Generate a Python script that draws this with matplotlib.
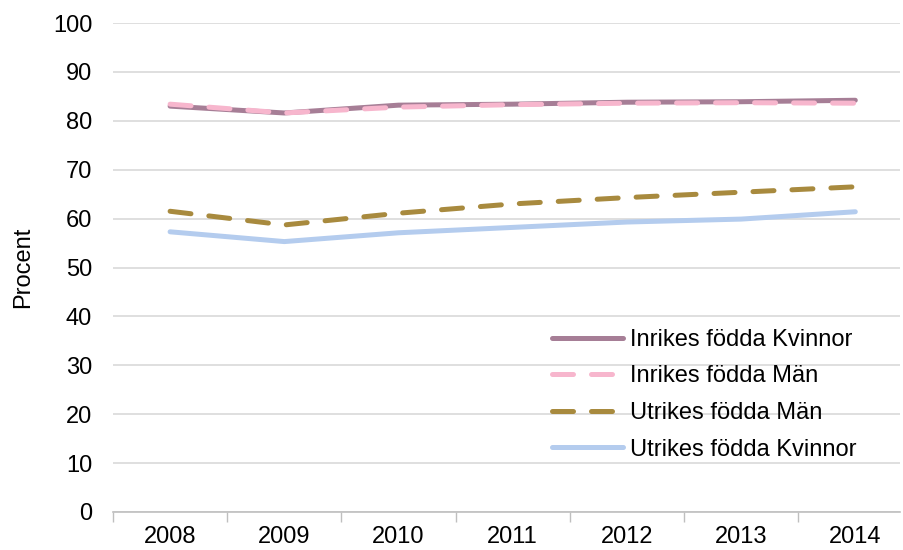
import numpy as np
import matplotlib.pyplot as plt

plt.rcParams['font.family'] = ['Liberation Sans', 'DejaVu Sans']

years = ['2008', '2009', '2010', '2011', '2012', '2013', '2014']

inrikesKvinnor = [83.0, 81.6, 83.2, 83.4, 83.8, 83.9, 84.2]
inrikesMan = [83.4, 81.6, 82.8, 83.3, 83.6, 83.7, 83.6]
utrikesMan = [61.5, 58.7, 61.1, 63.0, 64.3, 65.4, 66.5]
utrikesKvinnor = [57.3, 55.3, 57.1, 58.2, 59.3, 59.9, 61.4]

fig = plt.figure(figsize=(9.04, 5.5), dpi=100)
ax = fig.add_axes([113 / 904, 1 - 512 / 550, 787 / 904, 489 / 550])

fs = 17
x1 = np.arange(len(years))
lw = 3.6
ax.plot(x1, inrikesKvinnor, color='#A67E96', lw=lw, solid_capstyle='round',
        label='Inrikes födda Kvinnor', zorder=3)
ax.plot(x1, inrikesMan, color='#F7B6CD', lw=lw, dashes=(4.2, 3.6),
        dash_capstyle='round', label='Inrikes födda Män', zorder=4)
ax.plot(x1, utrikesMan, color='#A88A3E', lw=lw, dashes=(4.2, 3.6),
        dash_capstyle='round', label='Utrikes födda Män', zorder=3)
ax.plot(x1, utrikesKvinnor, color='#B4CCEE', lw=lw, solid_capstyle='round',
        label='Utrikes födda Kvinnor', zorder=3)

ax.set_ylim(0, 100)
ax.set_xlim(-0.5, -0.5 + 787 / 114.2)
ax.set_yticks(range(0, 101, 10))
ax.yaxis.grid(True, color='#D9D9D9', lw=1.2)
ax.set_axisbelow(True)
ax.set_xticks(x1)
ax.set_xticklabels(years)
ax.set_xticks(np.arange(-0.5, 6.0, 1.0), minor=True)
ax.tick_params(axis='x', which='major', length=0, pad=10, labelsize=fs)
ax.tick_params(axis='x', which='minor', length=7, color='#BFBFBF', width=1)
ax.tick_params(axis='y', length=0, pad=15, labelsize=fs)

for s in ['top', 'right', 'left']:
    ax.spines[s].set_visible(False)
ax.spines['bottom'].set_color('#BFBFBF')
ax.spines['bottom'].set_linewidth(1.2)

ax.set_ylabel('Procent', fontsize=fs, labelpad=13.5)

leg = ax.legend(loc='upper left', bbox_to_anchor=(540 / 904, 1 - 317 / 550),
                bbox_transform=fig.transFigure, frameon=False, fontsize=fs,
                handlelength=3.0, handletextpad=0.3, labelspacing=0.62,
                borderpad=0)

fig.savefig('out.png', dpi=100)
